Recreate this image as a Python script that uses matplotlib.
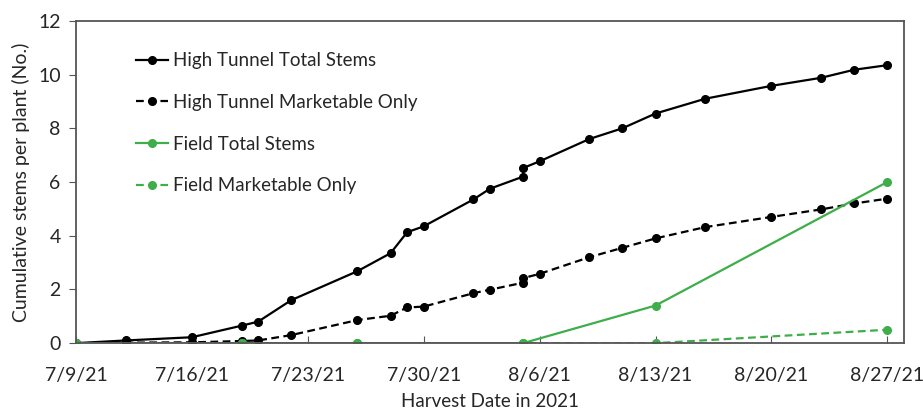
import pandas as pd
import matplotlib
matplotlib.use('Agg')
import matplotlib.pyplot as plt
import matplotlib.dates as mdates

plt.rcParams['font.family'] = ['Lato', 'DejaVu Sans']

# high tunnel harvest dates (two harvests on 8/5)
ht_dates = ['2021-07-09', '2021-07-12', '2021-07-16', '2021-07-19', '2021-07-20',
            '2021-07-22', '2021-07-26', '2021-07-28', '2021-07-29', '2021-07-30',
            '2021-08-02', '2021-08-03', '2021-08-05', '2021-08-05', '2021-08-06',
            '2021-08-09', '2021-08-11', '2021-08-13', '2021-08-16', '2021-08-20',
            '2021-08-23', '2021-08-25', '2021-08-27']
ht_total = [0, 0.1, 0.22, 0.65, 0.8, 1.6, 2.68, 3.35, 4.13, 4.35, 5.35, 5.75,
            6.2, 6.52, 6.77, 7.6, 8.0, 8.55, 9.1, 9.58, 9.88, 10.18, 10.35]
ht_market = [0, 0.02, 0.03, 0.08, 0.1, 0.3, 0.86, 1.02, 1.33, 1.36, 1.86, 1.99,
             2.25, 2.42, 2.58, 3.2, 3.55, 3.9, 4.32, 4.7, 4.98, 5.2, 5.38]

field_dates = ['2021-07-09', '2021-07-19', '2021-07-26', '2021-08-05',
               '2021-08-13', '2021-08-27']
field_total = [0, 0, 0, 0, 1.4, 6.0]
field_market = [0, 0, 0, 0, 0, 0.5]

ht_dates = pd.to_datetime(ht_dates)
field_dates = pd.to_datetime(field_dates)

green = '#3DAE49'
txt = '#262626'

fig = plt.figure(figsize=(9.23, 4.09), dpi=100)
ax = fig.add_axes([0.0823, 0.161, 0.897, 0.788])

ax.plot(ht_dates, ht_total, color='black', lw=1.6, marker='o', ms=5.5,
        label='High Tunnel Total Stems')
ax.plot(ht_dates, ht_market, color='black', lw=1.6, ls=(0, (3.5, 2)), marker='o', ms=5.5,
        label='High Tunnel Marketable Only')
ax.plot(field_dates, field_total, color=green, lw=1.6, marker='o', ms=5.5,
        label='Field Total Stems')
ax.plot(field_dates, field_market, color=green, lw=1.6, ls=(0, (3.5, 2)), marker='o', ms=5.5,
        label='Field Marketable Only')

ax.set_xlim(pd.Timestamp('2021-07-09'), pd.Timestamp('2021-08-28'))
ax.set_ylim(0, 12)
ax.set_yticks(range(0, 13, 2))
ax.set_xticks(pd.date_range('2021-07-09', '2021-08-27', freq='7D'))
ax.xaxis.set_major_formatter(mdates.DateFormatter('%-m/%-d/%y'))

for s in ax.spines.values():
    s.set_color('#555555')
    s.set_linewidth(1.3)
ax.tick_params(axis='x', direction='in', length=5, color='#555555', labelsize=14,
               labelcolor=txt, pad=17)
ax.tick_params(axis='y', direction='out', length=5, color='#555555', labelsize=14,
               labelcolor=txt, pad=6)

ax.set_xlabel('Harvest Date in 2021', fontsize=13.5, color=txt, labelpad=7)
ax.set_ylabel('Cumulative stems per plant (No.)', fontsize=14, color=txt, labelpad=6)

leg = ax.legend(loc='upper left', bbox_to_anchor=(0.052, 0.955), frameon=False, fontsize=13.5,
                labelspacing=1.32, handlelength=1.7, handletextpad=0.3)
for t in leg.get_texts():
    t.set_color(txt)

fig.savefig('out.png', dpi=100)
